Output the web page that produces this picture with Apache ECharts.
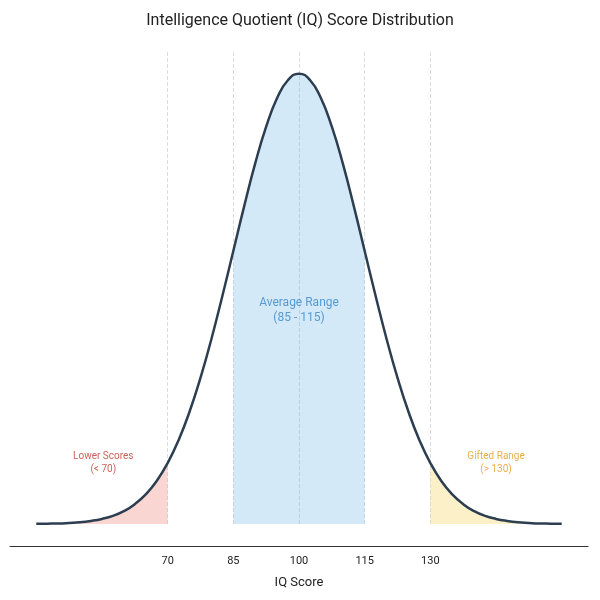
<!DOCTYPE html>
<html><head><meta charset="utf-8">
<script src="https://cdn.jsdelivr.net/npm/echarts@6/dist/echarts.min.js"></script>
<style>html,body{margin:0;padding:0;background:#fff}#c{width:600px;height:600px}</style>
</head><body><div id="c"></div>
<script>
const scores = [40,42.5,45,47.5,50,52.5,55,57.5,60,62.5,65,67.5,70,72.5,75,77.5,80,82.5,85,87.5,90,92.5,95,97.5,100,102.5,105,107.5,110,112.5,115,117.5,120,122.5,125,127.5,130,132.5,135,137.5,140,142.5,145,147.5,150,152.5,155,157.5,160];
const density = [0.01,0.02,0.03,0.06,0.10,0.18,0.30,0.48,0.76,1.17,1.75,2.54,3.60,4.95,6.63,8.63,10.93,13.47,16.13,18.79,21.30,23.47,25.16,26.23,26.60,26.23,25.16,23.47,21.30,18.79,16.13,13.47,10.93,8.63,6.63,4.95,3.60,2.54,1.75,1.17,0.76,0.48,0.30,0.18,0.10,0.06,0.03,0.02,0.01];
const tickLabels = [70,85,100,115,130];
const guideLines = [70,85,100,115,130];
const regionLabels = [
  {x:55.3, y:3.6, text:'Lower Scores\n(< 70)', color:'#c0392b', size:10},
  {x:100, y:12.6, text:'Average Range\n(85 - 115)', color:'#3a86c8', size:12},
  {x:145, y:3.6, text:'Gifted Range\n(> 130)', color:'#e39b1a', size:10}
];
const pts = scores.map((s,i)=>[s,density[i]]);
const sub = (a,b)=>pts.filter(p=>p[0]>=a&&p[0]<=b);
const fm = 'Roboto, "Noto Sans", sans-serif';
const chart = echarts.init(document.getElementById('c'));
function area(d,fill){return {type:'line',data:d,symbol:'none',smooth:true,z:2,
  lineStyle:{width:0},areaStyle:{color:fill,origin:0},silent:true};}
chart.setOption({
  animation:false,
  title:{text:'Intelligence Quotient (IQ) Score Distribution',left:'center',top:8,
    textStyle:{fontFamily:fm,fontSize:16,fontWeight:'normal',color:'#222'}},
  grid:{left:10,right:12,top:50,bottom:54},
  xAxis:{type:'value',min:34,max:166,interval:1,
    name:'IQ Score',nameLocation:'middle',nameGap:30,
    nameTextStyle:{fontFamily:fm,fontSize:13,color:'#222'},
    axisLine:{onZero:false,lineStyle:{color:'#333'}},axisTick:{show:false},splitLine:{show:false},
    axisLabel:{fontFamily:fm,fontSize:11,color:'#222',margin:10,
      formatter:v=>tickLabels.includes(v)?String(v):''}},
  yAxis:{type:'value',min:-1.3,max:28,show:false,splitLine:{show:false}},
  series:[
    {type:'line',data:[],z:0,silent:true,
      markLine:{silent:true,symbol:'none',label:{show:false},z:0,
        lineStyle:{type:'dashed',color:'#dcdcdc',width:1},
        data:guideLines.map(v=>[{coord:[v,0]},{coord:[v,28]}])}},
    area(sub(40,70),'rgba(240,140,130,0.5)'),
    area(sub(85,115),'rgba(110,180,232,0.42)'),
    area(sub(130,160),'rgba(245,215,110,0.55)'),
    {type:'line',data:pts,symbol:'none',smooth:true,z:3,
      lineStyle:{color:'#2c3e50',width:2.5}},
    {type:'scatter',symbolSize:0,z:4,silent:true,
      data:regionLabels.map(r=>({value:[r.x,r.y],label:{show:true,position:'inside',
        formatter:r.text,color:r.color,fontSize:r.size,fontFamily:fm,lineHeight:r.size+3}}))}
  ]
});
</script></body></html>
